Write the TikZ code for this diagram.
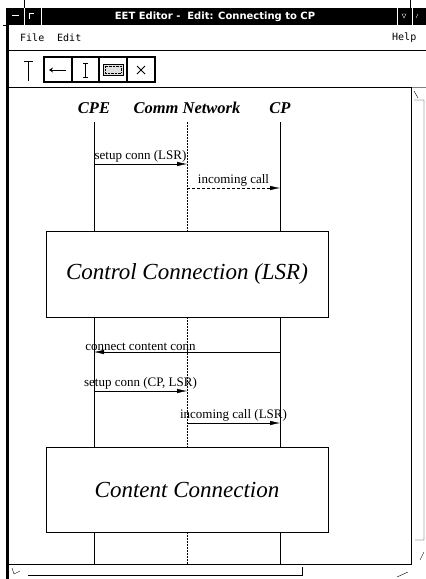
\documentclass[tikz,border=0pt]{standalone}
\usepackage{fontspec}
\setmainfont{Liberation Serif}
\newfontfamily\titlefont{DejaVu Sans}
\newfontfamily\menufont{DejaVu Sans Mono}
\usetikzlibrary{arrows.meta,calc,positioning}

\tikzset{
  actor/.style={font=\bfseries\itshape\fontsize{16.5}{20}\selectfont},
  phasebox/.style={draw,thin,minimum width=282pt,minimum height=86pt,
    font=\itshape\fontsize{23}{27}\selectfont},
  lifeline/.style={thin},
  netline/.style={line width=0.4pt,dash pattern=on 2pt off 1pt},
  msg/.style={thin,-{Latex[length=10pt,width=4.5pt]}},
  msglabel/.style={above,inner sep=1.5pt,font=\fontsize{13}{15}\selectfont},
  menuitem/.style={anchor=west,inner sep=0pt,font=\menufont\fontsize{10}{12}\selectfont},
  toolbtn/.style={line width=1.5pt},
}

\begin{document}
\begin{tikzpicture}[x=1pt,y=-1pt]
  \useasboundingbox (0,0) rectangle (426,579);
  % Title bar
  \fill (8,8) rectangle (426,25);
  \draw[white] (24,8) -- (24,25) (41,8) -- (41,25) (397,8) -- (397,25) (412,8) -- (412,25);
  \draw[white,thick] (12,15.5) -- (19,15.5);
  \draw[white] (29,19) -- (29,13) -- (34,13);
  \draw[white] (402,14) -- (406,14) -- (404,18) -- cycle;
  \draw[white] (416,18) -- (418,14);
  \node[white,font=\titlefont\bfseries\fontsize{10}{12}\selectfont] (title) at (215,17)
    {EET Editor -\ \ Edit: Connecting to CP};
  % Stray marks round the frame
  \draw (24,0) -- (24,8) (410,0) -- (410,8);
  \draw (3,25) -- (8,25);
  % Window border
  \draw[line width=2.5pt] (7.5,8) -- (7.5,579);
  % Menu bar
  \node[menuitem] (file) at (20,38) {File};
  \node[menuitem] (edit) at (57,38) {Edit};
  \node[menuitem] (help) at (392,38) {Help};
  \draw (9,50) -- (426,50);
  % Tool bar
  \draw[line width=1pt] (24,61.5) -- (33,61.5) (28.5,61.5) -- (28.5,81);
  \draw[toolbtn] (44,57) rectangle (155,82);
  \foreach \x in {72,99,127}
    \draw[toolbtn] (\x,57) -- (\x,82);
  \draw[thick,-{Stealth[length=4pt,width=5pt]}] (66,70) -- (49,70);
  \draw[thick] (85.5,63) -- (85.5,77) (83,63) -- (88,63) (83,77) -- (88,77);
  \draw[fill=gray!25] (103,64) rectangle (123,75);
  \draw[densely dotted] (105,66) rectangle (121,73);
  \draw[thick] (137,66) -- (145,74) (137,74) -- (145,66);
  \draw (9,87) -- (411,87);
  % Canvas
  \draw (9,564) -- (411,564) -- (411,87);
  % Scroll bars
  \draw[line width=1pt,gray] (412,87.5) -- (426,87.5);
  \draw (414,91) -- (418,98) (414,100) -- (424,100) -- (424,540) -- (415,540);
  \draw (420,560) -- (424,552);
  \draw (12,568) -- (14,574) -- (20,571);
  \draw (28,575) -- (302,575) -- (302,567);
  \draw (397,577) -- (408,572);

  % Actors
  \node[actor] (cpe) at (94,108) {CPE};
  \node[actor] (net) at (187,108) {Comm Network};
  \node[actor] (cp) at (280,108) {CP};
  % Phases
  \node[phasebox] (ctrl) at (187,274) {Control Connection (LSR)};
  \node[phasebox,minimum height=85pt] (content) at (187,489.5) {Content Connection};
  % Lifelines
  \foreach \a/\s in {cpe/lifeline,net/netline,cp/lifeline}{
    \draw[\s] (\a |- 0,122) -- (\a |- ctrl.north);
    \draw[\s] (\a |- ctrl.south) -- (\a |- content.north);
    \draw[\s] (\a |- content.south) -- (\a |- 0,564);
  }
  % Messages
  \draw[msg] (cpe |- 0,164) -- node[msglabel] {setup conn (LSR)} (net |- 0,164);
  \draw[msg,densely dashed] (net |- 0,188) -- node[msglabel] {incoming call} (cp |- 0,188);
  \draw[msg] (cp |- 0,352) -- node[msglabel,pos=0.75] {connect content conn} (cpe |- 0,352);
  \draw[msg] (cpe |- 0,391) -- node[msglabel] {setup conn (CP, LSR)} (net |- 0,391);
  \draw[msg] (net |- 0,423) -- node[msglabel] {incoming call (LSR)} (cp |- 0,423);
\end{tikzpicture}
\end{document}
